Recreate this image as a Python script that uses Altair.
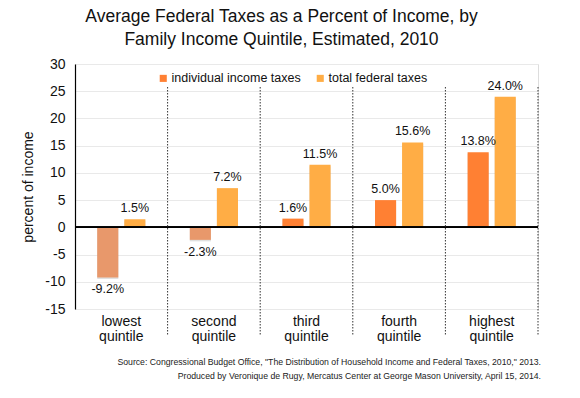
import altair as alt
import pandas as pd

quintiles = ["lowest quintile", "second quintile", "third quintile", "fourth quintile", "highest quintile"]
individual = [-9.2, -2.3, 1.6, 5.0, 13.8]
total = [1.5, 7.2, 11.5, 15.6, 24.0]
series = ["individual income taxes", "total federal taxes"]
y_ticks = [-15, -10, -5, 0, 5, 10, 15, 20, 25, 30]
title_lines = ["Average Federal Taxes as a Percent of Income, by",
               "Family Income Quintile, Estimated, 2010"]
source_lines = ['Source: Congressional Budget Office, "The Distribution of Household Income and Federal Taxes, 2010," 2013.',
                "Produced by Veronique de Rugy, Mercatus Center at George Mason University, April 15, 2014."]

rows = []
for q, a, b in zip(quintiles, individual, total):
    rows.append({"quintile": q, "series": series[0], "value": a,
                 "colorkey": "negative" if a < 0 else series[0]})
    rows.append({"quintile": q, "series": series[1], "value": b,
                 "colorkey": "negative" if b < 0 else series[1]})
df = pd.DataFrame(rows)
df["label"] = df["value"].map(lambda v: f"{v:.1f}%")

qdf = pd.DataFrame({"quintile": quintiles})
src = pd.DataFrame({"text": source_lines, "line": [0, 1]})

W, H = 463, 245
FONT = "Liberation Sans"

xenc = alt.X("quintile:N", sort=quintiles,
             scale=alt.Scale(paddingInner=0, paddingOuter=0),
             axis=alt.Axis(title=None, labelExpr="split(datum.value, ' ')",
                           labelFontSize=14, labelColor="#111", labelFont=FONT,
                           labelPadding=5, labelLineHeight=15, ticks=False,
                           domain=False, labelAngle=0, grid=False))
xoff = alt.XOffset("series:N", sort=series,
                   scale=alt.Scale(paddingInner=0.22, paddingOuter=0.82))
yscale = alt.Scale(domain=[-15, 30], nice=False)
yaxis = alt.Axis(title="percent of income", values=y_ticks,
                 labelExpr="replace(datum.label, '\u2212', '-')",
                 labelOverlap=False,
                 titleFontSize=14, titleFont=FONT, titleFontWeight="normal",
                 titleColor="#111", titlePadding=9,
                 labelFontSize=14, labelFont=FONT, labelColor="#111",
                 labelPadding=10, ticks=False, domainColor="#000",
                 domainWidth=1.2, gridColor="#e9e9e9", gridWidth=1)
yenc = alt.Y("value:Q", scale=yscale, axis=yaxis)

color = alt.Color("colorkey:N",
                  scale=alt.Scale(domain=[series[0], series[1], "negative"],
                                  range=["#FF8033", "#FFAD45", "#E8986B"]),
                  legend=alt.Legend(values=series, title=None, orient="none",
                                    legendX=82, legendY=8, direction="horizontal",
                                    symbolType="square", symbolSize=50,
                                    symbolStrokeWidth=0, labelFontSize=12.5,
                                    labelFont=FONT, labelColor="#111",
                                    labelOffset=2, columnPadding=13))

base = alt.Chart(df)

shadow = base.mark_bar(color="#000", opacity=0.12, xOffset=1.5, yOffset=1.5).encode(
    x=xenc, xOffset=xoff, y=yenc, y2=alt.datum(0))
bars = base.mark_bar().encode(x=xenc, xOffset=xoff, y=yenc, y2=alt.datum(0), color=color)

pos_text = base.transform_filter("datum.value >= 0").mark_text(
    baseline="bottom", dy=-4, fontSize=12.5, font=FONT, color="#111").encode(
    x=xenc, xOffset=xoff, y=yenc, text="label:N")
neg_text = base.transform_filter("datum.value < 0").mark_text(
    baseline="top", dy=6, fontSize=12.5, font=FONT, color="#111").encode(
    x=xenc, xOffset=xoff, y=yenc, text="label:N")

zero = alt.Chart(qdf).mark_rule(color="#000", strokeWidth=1.5).encode(
    y=alt.YDatum(0, scale=yscale, axis=yaxis))

dividers = alt.Chart(qdf).mark_rule(color="#333", strokeDash=[1.5, 1.5], strokeWidth=1).encode(
    x=alt.X("quintile:N", sort=quintiles, bandPosition=1),
    y=alt.value(23), y2=alt.value(272))

src1 = alt.Chart(src).transform_filter("datum.line == 0").mark_text(
    align="right", baseline="middle", fontSize=8.7, font=FONT, color="#222").encode(
    text="text:N", x=alt.value(W + 3), y=alt.value(H + 53))
src2 = alt.Chart(src).transform_filter("datum.line == 1").mark_text(
    align="right", baseline="middle", fontSize=8.7, font=FONT, color="#222").encode(
    text="text:N", x=alt.value(W + 3), y=alt.value(H + 67))

chart = alt.layer(shadow, bars, zero, dividers, pos_text, neg_text, src1, src2).properties(
    width=W, height=H,
    title=alt.TitleParams(title_lines, fontSize=17.5, font=FONT, fontWeight="normal",
                          color="#111", anchor="middle", dx=-25, offset=9,
                          lineHeight=23),
    padding={"left": 67, "top": 56, "right": 30, "bottom": 75},
    autosize=alt.AutoSizeParams(type="none"),
).configure_view(stroke=None).configure_axis(labelOverlap=False).configure(background="white")

chart.save("out.html", embed_options={"renderer": "svg", "actions": False})
